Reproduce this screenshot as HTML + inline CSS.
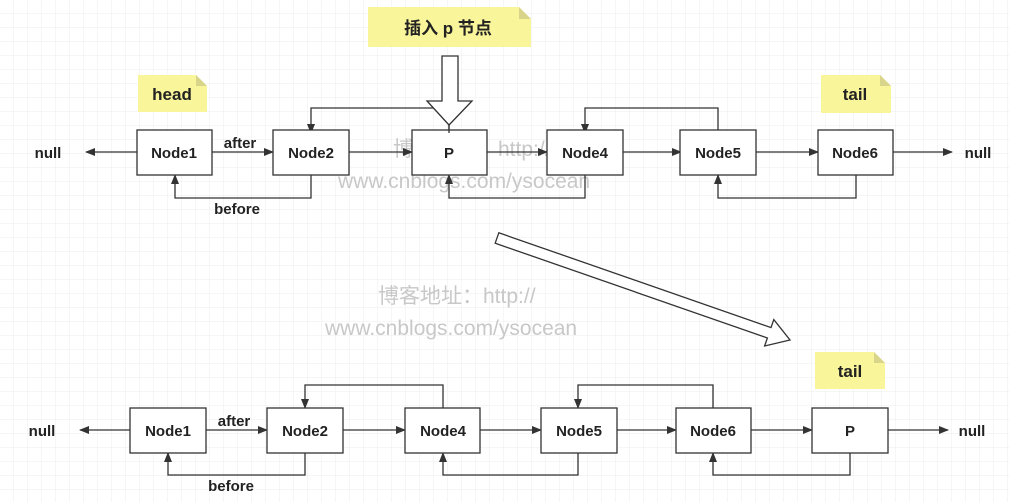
<!DOCTYPE html>
<html><head><meta charset="utf-8"><style>
html,body{margin:0;padding:0;background:#fff;}
svg{display:block;}
text{font-family:"Liberation Sans","Noto Sans CJK SC",sans-serif;}
</style></head><body>
<svg width="1009" height="502" viewBox="0 0 1009 502" xmlns="http://www.w3.org/2000/svg">
<defs>
<pattern id="g" width="14" height="14" patternUnits="userSpaceOnUse">
<path d="M14 0V14M0 14H14" fill="none" stroke="#ececec" stroke-width="1"/>
</pattern>
<marker id="a" markerWidth="10" markerHeight="8" refX="9" refY="4" orient="auto" markerUnits="userSpaceOnUse">
<path d="M0,0 L10,4 L0,8 Z" fill="#333"/>
</marker>
</defs>
<rect width="1009" height="502" fill="url(#g)"/>

<!-- watermarks -->
<g fill="#c8c8c8" font-size="21">
<text x="393" y="156">博客地址：http://</text>
<text x="338" y="188">www.cnblogs.com/ysocean</text>
<text x="378" y="303">博客地址：http://</text>
<text x="325" y="335">www.cnblogs.com/ysocean</text>
</g>

<!-- notes -->
<g fill="#f9f59a">
<path d="M368 7H519L531 19V47H368Z"/>
<path d="M138 75H196L207 86V112H138Z"/>
<path d="M821 75H880L891 86V113H821Z"/>
<path d="M815 352H874L885 363V389H815Z"/>
</g>
<g fill="#d8d48a">
<path d="M519 7L531 19H519Z"/><path d="M196 75L207 86H196Z"/><path d="M880 75L891 86H880Z"/><path d="M874 352L885 363H874Z"/>
</g>
<g font-weight="bold" font-size="17" fill="#222" text-anchor="middle">
<text x="448" y="34">插入 p 节点</text>
<text x="172" y="100">head</text>
<text x="855" y="100">tail</text>
<text x="850" y="377">tail</text>
</g>

<g stroke="#333" stroke-width="1.3" fill="none">
<!-- top row arrows -->
<path d="M137 152H86" marker-end="url(#a)"/>
<path d="M212 152H273" marker-end="url(#a)"/>
<path d="M349 152H412" marker-end="url(#a)"/>
<path d="M487 152H547" marker-end="url(#a)"/>
<path d="M623 152H681" marker-end="url(#a)"/>
<path d="M756 152H818" marker-end="url(#a)"/>
<path d="M893 152H952" marker-end="url(#a)"/>
<path d="M449 133V108H311V133" marker-end="url(#a)"/>
<path d="M718 130V108H585V133" marker-end="url(#a)"/>
<path d="M311 175V198H175V175" marker-end="url(#a)"/>
<path d="M585 175V198H449V175" marker-end="url(#a)"/>
<path d="M856 175V198H718V175" marker-end="url(#a)"/>
<!-- bottom row arrows -->
<path d="M130 430H80" marker-end="url(#a)"/>
<path d="M206 430H267" marker-end="url(#a)"/>
<path d="M343 430H405" marker-end="url(#a)"/>
<path d="M480 430H541" marker-end="url(#a)"/>
<path d="M617 430H676" marker-end="url(#a)"/>
<path d="M751 430H812" marker-end="url(#a)"/>
<path d="M888 430H948" marker-end="url(#a)"/>
<path d="M443 408V385H305V408" marker-end="url(#a)"/>
<path d="M713 408V385H578V408" marker-end="url(#a)"/>
<path d="M305 453V475H168V453" marker-end="url(#a)"/>
<path d="M578 453V475H443V453" marker-end="url(#a)"/>
<path d="M850 453V475H713V453" marker-end="url(#a)"/>
</g>

<!-- boxes -->
<g fill="#fff" stroke="#333" stroke-width="1.3">
<rect x="137" y="130" width="75" height="45"/>
<rect x="273" y="130" width="76" height="45"/>
<rect x="412" y="130" width="75" height="45"/>
<rect x="547" y="130" width="76" height="45"/>
<rect x="680" y="130" width="76" height="45"/>
<rect x="818" y="130" width="75" height="45"/>
<rect x="130" y="408" width="76" height="45"/>
<rect x="267" y="408" width="76" height="45"/>
<rect x="405" y="408" width="75" height="45"/>
<rect x="541" y="408" width="76" height="45"/>
<rect x="676" y="408" width="75" height="45"/>
<rect x="812" y="408" width="76" height="45"/>
</g>

<!-- hollow arrows -->
<g fill="#fff" stroke="#333" stroke-width="1.3">
<path d="M442 56H458V101H472L449 125L427 101H442Z"/>
<path d="M498.8,232.8 L771,327.6 L773.8,319.6 L790,340 L764.6,346 L767.4,338 L495.2,243.2 Z"/>
</g>
<path d="M449 125V133" stroke="#333" stroke-width="1.3"/>

<g font-weight="bold" font-size="15" fill="#222" text-anchor="middle">
<text x="174" y="158">Node1</text>
<text x="311" y="158">Node2</text>
<text x="449" y="158">P</text>
<text x="585" y="158">Node4</text>
<text x="718" y="158">Node5</text>
<text x="855" y="158">Node6</text>
<text x="48" y="158">null</text>
<text x="978" y="158">null</text>
<text x="240" y="148">after</text>
<text x="237" y="214">before</text>
<text x="168" y="436">Node1</text>
<text x="305" y="436">Node2</text>
<text x="443" y="436">Node4</text>
<text x="579" y="436">Node5</text>
<text x="713" y="436">Node6</text>
<text x="850" y="436">P</text>
<text x="42" y="436">null</text>
<text x="972" y="436">null</text>
<text x="234" y="426">after</text>
<text x="231" y="491">before</text>
</g>
</svg>
</body></html>
